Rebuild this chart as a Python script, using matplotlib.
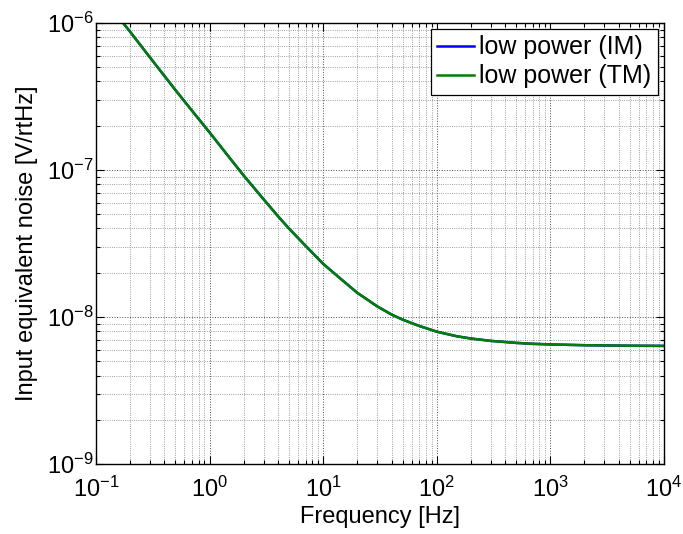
import matplotlib
matplotlib.use("Agg")
import matplotlib.pyplot as plt
from matplotlib.ticker import LogLocator, NullFormatter

freq = [0.16, 0.2, 0.3, 0.5, 0.7, 1, 1.5, 2, 3, 4, 5, 7, 10, 15, 20, 30, 40,
        50, 70, 100, 150, 200, 300, 500, 700, 1000, 2000, 5000, 10000]
noise_tm = [1.08e-6, 8.7e-7, 5.8e-7, 3.5e-7, 2.53e-7, 1.8e-7, 1.21e-7, 9.15e-8,
            6.3e-8, 4.85e-8, 4.0e-8, 3.05e-8, 2.3e-8, 1.76e-8, 1.46e-8,
            1.18e-8, 1.04e-8, 9.6e-9, 8.7e-9, 7.95e-9, 7.4e-9, 7.14e-9,
            6.88e-9, 6.67e-9, 6.57e-9, 6.51e-9, 6.43e-9, 6.38e-9, 6.36e-9]
noise_im = list(noise_tm)

labels = ["low power (IM)", "low power (TM)"]
xlabel = "Frequency [Hz]"
ylabel = "Input equivalent noise [V/rtHz]"

plt.rcParams['font.family'] = ['Liberation Sans', 'DejaVu Sans']
plt.rcParams['mathtext.fontset'] = 'custom'
plt.rcParams['mathtext.rm'] = 'Liberation Sans'
plt.rcParams['mathtext.it'] = 'Liberation Sans'
plt.rcParams['mathtext.bf'] = 'Liberation Sans'

fig = plt.figure(figsize=(6.83, 5.34), dpi=100)
ax = fig.add_axes([0.1406, 0.131, 0.8314, 0.826])

ax.loglog(freq, noise_im, color=(0, 0, 1), lw=1.8, label=labels[0])
ax.loglog(freq, noise_tm, color=(0, 0.5, 0), lw=1.8, label=labels[1])

ax.set_xlim(0.1, 1e4)
ax.set_ylim(1e-9, 1e-6)
ax.xaxis.set_major_locator(LogLocator(base=10, numticks=10))
ax.yaxis.set_major_locator(LogLocator(base=10, numticks=10))
ax.xaxis.set_minor_locator(LogLocator(base=10, subs=range(2, 10), numticks=20))
ax.yaxis.set_minor_locator(LogLocator(base=10, subs=range(2, 10), numticks=20))
ax.xaxis.set_minor_formatter(NullFormatter())
ax.yaxis.set_minor_formatter(NullFormatter())

ax.grid(True, which='major', ls=':', color='0.3', lw=0.7)
ax.grid(True, which='minor', ls=':', color='0.5', lw=0.6)

ax.tick_params(which='both', direction='in', top=True, right=True,
               labelsize=17, width=0.8)
ax.tick_params(axis='x', which='major', pad=9)
ax.tick_params(axis='y', which='major', pad=2)
ax.tick_params(which='major', length=6)
ax.tick_params(which='minor', length=3)
for s in ax.spines.values():
    s.set_linewidth(1.0)

ax.set_xlabel(xlabel, fontsize=17, labelpad=3)
ax.set_ylabel(ylabel, fontsize=17, labelpad=6)

leg = ax.legend(loc='upper right', fontsize=18, fancybox=False,
                framealpha=1, edgecolor='k', borderpad=0.25,
                handlelength=1.5, handletextpad=0.2, labelspacing=0.2,
                borderaxespad=0.25)
leg.get_frame().set_linewidth(0.9)

fig.savefig("out.png", dpi=100)
